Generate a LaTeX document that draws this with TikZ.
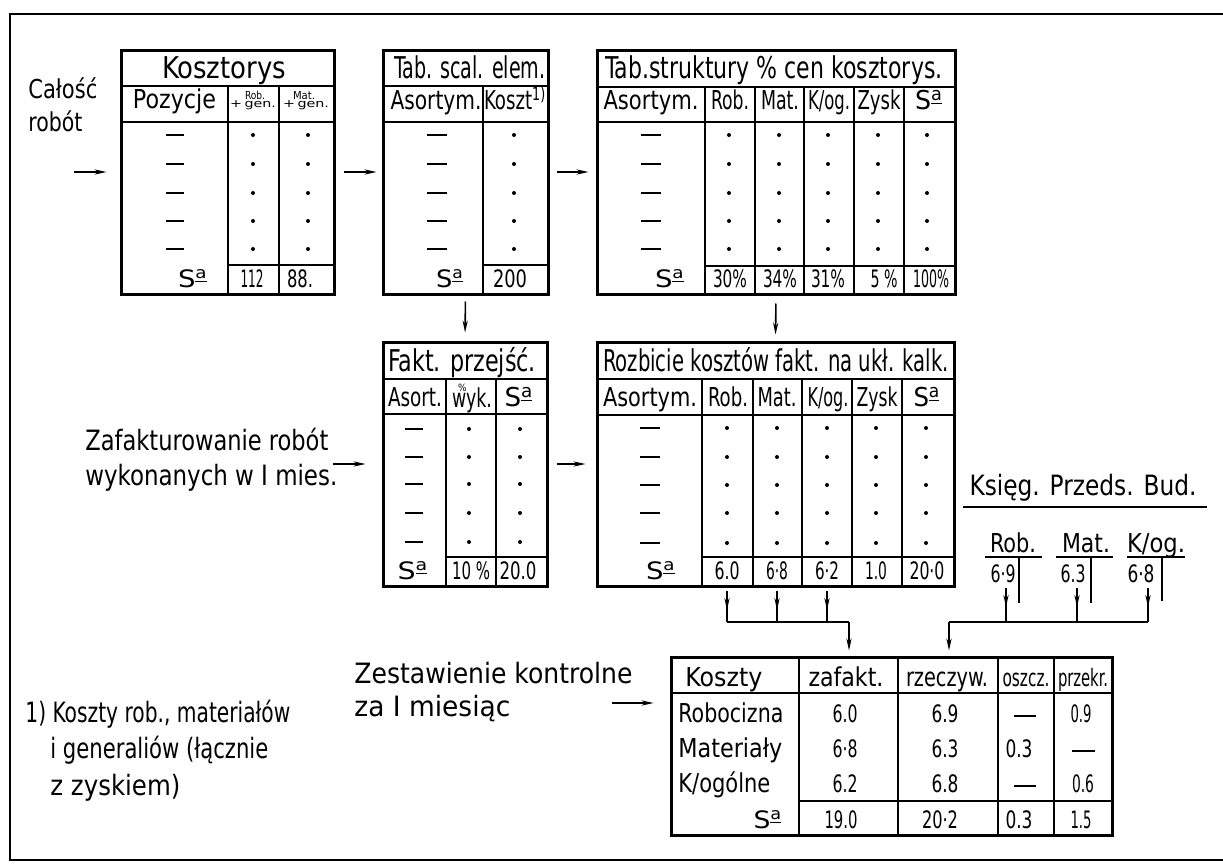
\documentclass[tikz,border=0pt]{standalone}
\usepackage{fontspec}
\setmainfont{DejaVu Sans Condensed}
\usepackage{graphicx}
\usetikzlibrary{arrows.meta,fit}
\newlength\fxw
\newcommand\fitx[2]{\settowidth\fxw{#2}\pgfmathsetmacro\fxs{0.5*#1/\fxw}\scalebox{\fxs}[1]{#2}}
\newcommand\Sa{S\textsuperscript{\underline{a}}}
\begin{document}
\begin{tikzpicture}[x=0.5pt,y=-0.5pt,
  tx/.style={inner sep=0pt, anchor=base},
  txl/.style={inner sep=0pt, anchor=base west},
  ttl/.style={tx, font=\fontsize{15}{17}\selectfont},
  hdr/.style={tx, font=\fontsize{13}{15}\selectfont},
  num/.style={tx, font=\fontsize{12}{14}\selectfont},
  lab/.style={txl, font=\fontsize{14}{16}\selectfont},
  labs/.style={txl, font=\fontsize{13}{15}\selectfont},
  tny/.style={tx, font=\fontsize{5.5}{6}\selectfont},
  tbl/.style={draw, line width=1.5pt, inner sep=0pt},
  inl/.style={line width=0.8pt},
  dsh/.style={line width=1pt},
  arr/.style={line width=0.8pt, -{Stealth[length=6pt,width=2.6pt]}},
  con/.style={line width=0.8pt},
  frm/.style={line width=1.4pt}]
\useasboundingbox (0,0) rectangle (1223,868);
\fill[white] (0,0) rectangle (1223,868);
% frame
\draw[frm] (1223,14) -- (10,14) -- (10,860) -- (1223,860);

% ---------- Table 1: Kosztorys
\node[tbl, fit={(121,50) (334,294)}] (T1) {};
\draw[inl] (121,86) -- (334,86) (121,122) -- (334,122)
  (228,86) -- (228,294) (279,86) -- (279,294) (228,265) -- (334,265);
\node[ttl] (t1a) at (224,78) {\fitx{124}{Kosztorys}};
\node[hdr] (t1b) at (174.5,108) {\fitx{83}{Pozycje}};
\node[tny] (t1c) at (255,99) {\fitx{20}{Rob.}};
\node[tny] (t1d) at (253,107) {\fitx{46}{+\,gen.}};
\node[tny] (t1e) at (304,99) {\fitx{22}{Mat.}};
\node[tny] (t1f) at (306,107) {\fitx{46}{+\,gen.}};
\foreach \y in {135,164,193,221,249} {
  \draw[dsh] (166,\y) -- (184,\y);
  \fill (253,\y) circle (1pt); \fill (308,\y) circle (1pt);}
\node[num] (t1g) at (193,287) {\fitx{30}{\Sa}};
\node[num] (t1h) at (252,287) {\fitx{23}{112}};
\node[num] (t1i) at (300,287) {\fitx{26}{88.}};

% ---------- Table 2: Tab. scal. elem.
\node[tbl, fit={(383,50) (548,294)}] (T2) {};
\draw[inl] (383,86) -- (548,86) (383,122) -- (548,122)
  (483,86) -- (483,294) (483,265) -- (548,265);
\node[ttl] (t2a) at (470,78) {\fitx{151}{Tab. scal. elem.}};
\node[hdr] (t2b) at (436,109) {\fitx{91}{Asortym.}};
\node[hdr] (t2c) at (515,109) {\fitx{62}{Koszt\textsuperscript{1)}}};
\foreach \y in {135,164,193,221,249} {
  \draw[dsh] (427,\y) -- (447,\y);
  \fill (514,\y) circle (1pt);}
\node[num] (t2d) at (450,287) {\fitx{28}{\Sa}};
\node[num] (t2e) at (510,287) {\fitx{34}{200}};

% ---------- Table 3: Tab. struktury
\node[tbl, fit={(597,50) (955,294)}] (T3) {};
\draw[inl] (597,87) -- (955,87) (597,122) -- (955,122)
  (705,87) -- (705,294) (755,87) -- (755,294) (804,87) -- (804,294)
  (854,87) -- (854,294) (904,87) -- (904,294) (705,266) -- (955,266);
\node[ttl] (t3a) at (774,78) {\fitx{337}{Tab.struktury \% cen kosztorys.}};
\node[hdr] (t3b) at (651,109) {\fitx{95}{Asortym.}};
\node[hdr] (t3c) at (730,109) {\fitx{38}{Rob.}};
\node[hdr] (t3d) at (780,109) {\fitx{38}{Mat.}};
\node[hdr] (t3e) at (829,109) {\fitx{42}{K/og.}};
\node[hdr] (t3f) at (879,109) {\fitx{43}{Zysk}};
\node[hdr] (t3g) at (929,109) {\fitx{28}{\Sa}};
\foreach \y in {135,164,193,221,249} {
  \draw[dsh] (641,\y) -- (661,\y);
  \foreach \x in {729,779,828,878,927} {\fill (\x,\y) circle (1pt);}}
\node[num] (t3h) at (670,287) {\fitx{30}{\Sa}};
\node[num] (t3i) at (730,287) {\fitx{34}{30\%}};
\node[num] (t3j) at (780,287) {\fitx{34}{34\%}};
\node[num] (t3k) at (828,287) {\fitx{34}{31\%}};
\node[num] (t3l) at (884,287) {\fitx{27}{5 \%}};
\node[num] (t3m) at (931,287) {\fitx{36}{100\%}};

% ---------- Table F: Fakt. przejsc.
\node[tbl, fit={(383,342) (547,586)}] (F) {};
\draw[inl] (383,379) -- (547,379) (383,414) -- (547,414)
  (446,379) -- (446,586) (496,379) -- (496,586) (446,557) -- (547,557);
\node[ttl] (fa) at (462,371) {\fitx{148}{Fakt. przejść.}};
\node[hdr] (fb) at (415,406) {\fitx{54}{Asort.}};
\node[hdr] (fd) at (472,407) {\rlap{\raisebox{8pt}{\fontsize{5}{6}\selectfont\hspace{3pt}\%}}\fitx{40}{wyk.}};
\node[hdr] (fe) at (519,406) {\fitx{29}{\Sa}};
\foreach \y in {429,457,484,513,542} {
  \draw[dsh] (405,\y) -- (423,\y);
  \fill (469,\y) circle (1pt); \fill (520,\y) circle (1pt);}
\node[num] (ff) at (413,579) {\fitx{31}{\Sa}};
\node[num] (fg) at (471,579) {\fitx{38}{10 \%}};
\node[num] (fh) at (518,579) {\fitx{37}{20.0}};

% ---------- Table R: Rozbicie
\node[tbl, fit={(597,342) (954,586)}] (R) {};
\draw[inl] (597,379) -- (954,379) (597,415) -- (954,415)
  (702,379) -- (702,586) (753,379) -- (753,586) (802,379) -- (802,586)
  (852,379) -- (852,586) (902,379) -- (902,586) (702,557) -- (954,557);
\node[ttl] (ra) at (776,371) {\fitx{346}{Rozbicie kosztów fakt. na ukł. kalk.}};
\node[hdr] (rb) at (650,406) {\fitx{94}{Asortym.}};
\node[hdr] (rc) at (728,406) {\fitx{40}{Rob.}};
\node[hdr] (rd) at (777,406) {\fitx{39}{Mat.}};
\node[hdr] (re) at (828,406) {\fitx{41}{K/og.}};
\node[hdr] (rf) at (877,406) {\fitx{41}{Zysk}};
\node[hdr] (rg) at (927,406) {\fitx{27}{\Sa}};
\foreach \y in {428,457,485,513,543} {
  \draw[dsh] (640,\y) -- (660,\y);
  \foreach \x in {727,777,827,876,926} {\fill (\x,\y) circle (1pt);}}
\node[num] (rh) at (661,579) {\fitx{30}{\Sa}};
\node[num] (ri) at (727,579) {\fitx{25}{6.0}};
\node[num] (rj) at (777,579) {\fitx{22}{6·8}};
\node[num] (rk) at (827,579) {\fitx{24}{6·2}};
\node[num] (rl) at (876,579) {\fitx{22}{1.0}};
\node[num] (rm) at (927,579) {\fitx{35}{20·0}};

% ---------- Table B: Zestawienie
\node[tbl, fit={(671,657) (1112,835)}] (B) {};
\draw[inl] (671,693) -- (1112,693) (799,801) -- (1112,801)
  (799,657) -- (799,835) (898,657) -- (898,835)
  (998,657) -- (998,835) (1054,657) -- (1054,835);
\node[txl, font=\fontsize{13}{15}\selectfont] (ba) at (685,686) {\fitx{77}{Koszty}};
\node[hdr] (bb) at (846,686) {\fitx{75}{zafakt.}};
\node[hdr] (bc) at (947,686) {\fitx{82}{rzeczyw.}};
\node[num] (bd) at (1026,686) {\fitx{47}{oszcz.}};
\node[num] (be) at (1083,686) {\fitx{50}{przekr.}};
\node[txl, font=\fontsize{13}{15}\selectfont] (bf) at (678,722) {\fitx{105}{Robocizna}};
\node[txl, font=\fontsize{13}{15}\selectfont] (bg) at (678,757) {\fitx{104}{Materiały}};
\node[txl, font=\fontsize{13}{15}\selectfont] (bh) at (678,792) {\fitx{92}{K/ogólne}};
\node[num] (bi) at (845,722) {\fitx{25}{6.0}};
\node[num] (bj) at (945,722) {\fitx{27}{6.9}};
\draw[dsh] (1014,716) -- (1036,716);
\node[num] (bk) at (1081,722) {\fitx{21}{0.9}};
\node[num] (bl) at (845,757) {\fitx{25}{6·8}};
\node[num] (bm) at (945,757) {\fitx{27}{6.3}};
\node[num] (bn) at (1019,757) {\fitx{27}{0.3}};
\draw[dsh] (1072,751) -- (1095,751);
\node[num] (bo) at (845,792) {\fitx{25}{6.2}};
\node[num] (bp) at (945,792) {\fitx{27}{6.8}};
\draw[dsh] (1014,786) -- (1036,786);
\node[num] (bq) at (1083,792) {\fitx{22}{0.6}};
\node[num] (br) at (768,828) {\fitx{29}{\Sa}};
\node[num] (bs) at (841,828) {\fitx{33}{19.0}};
\node[num] (bt) at (940,828) {\fitx{36}{20·2}};
\node[num] (bu) at (1019,828) {\fitx{27}{0.3}};
\node[num] (bv) at (1081,828) {\fitx{21}{1.5}};

% ---------- Ksieg. Przeds. Bud.
\node[tx, font=\fontsize{14}{16}\selectfont] (ka) at (1083,495) {\fitx{227}{Księg. Przeds. Bud.}};
\draw[con] (963,507) -- (1207,507);
\node[hdr] (kb) at (1013,552) {\fitx{46}{Rob.}};
\node[hdr] (kc) at (1086,552) {\fitx{48}{Mat.}};
\node[hdr] (kd) at (1156,552) {\fitx{58}{K/og.}};
\draw[con] (985,557) -- (1042,557) (1056,557) -- (1113,557) (1127,557) -- (1185,557);
\node[num] (ke) at (1003,582) {\fitx{25}{6·9}};
\node[num] (kf) at (1073,582) {\fitx{25}{6.3}};
\node[num] (kg) at (1141,582) {\fitx{27}{6·8}};
\draw[con] (1019,557) -- (1019,603) (1091,557) -- (1091,603) (1162,557) -- (1162,601);

% ---------- left labels
\node[labs] (la) at (28,98) {\fitx{69}{Całość}};
\node[labs] (lb) at (28,131) {\fitx{54}{robót}};
\node[lab] (lc) at (85,450) {\fitx{243}{Zafakturowanie robót}};
\node[lab] (ld) at (85,485) {\fitx{252}{wykonanych w I mies.}};
\node[lab] (le) at (354,683) {\fitx{278}{Zestawienie kontrolne}};
\node[lab] (lf) at (354,716) {\fitx{156}{za I miesiąc}};
\node[lab] (lg) at (25,722) {\fitx{265}{1) Koszty rob., materiałów}};
\node[lab] (lh) at (50,758) {\fitx{218}{i generaliów (łącznie}};
\node[lab] (li) at (50,795) {\fitx{130}{z zyskiem)}};

% ---------- connectors
\coordinate (a1) at (74,172);
\draw[arr, shorten >=6.5pt] (a1) -- (T1.west);
\draw[arr, shorten <=4pt, shorten >=2.5pt] (T1.east) -- (T2.west);
\draw[arr, shorten <=3.5pt, shorten >=3.5pt] (T2.east) -- (T3.west);
\draw[arr, shorten <=3pt, shorten >=4pt] (T2.south) -- (F.north);
\draw[arr, shorten <=4pt, shorten >=3pt] (T3.south) -- (R.north);
\coordinate (a2) at (333,464);
\draw[arr, shorten >=8pt] (a2) -- (F.west);
\draw[arr, shorten <=4pt, shorten >=5pt] (F.east) -- (R.west);
\coordinate (a3) at (612,703);
\draw[arr, shorten >=8pt] (a3) -- (a3 -| B.west);

% left group: Rozbicie -> zafakt.
\coordinate (jl) at (849,622);
\foreach \x in {727,777,827} {
  \draw[con] (\x,591) -- (\x,622);
  \draw[arr] (\x,591) -- (\x,610);}
\draw[con] (727,622) -- (jl);
\draw[arr, shorten >=2.5pt] (jl) -- (jl |- B.north);
% right group: Ksieg -> rzeczyw.
\coordinate (jr) at (949,622);
\foreach \x in {1006,1077,1148} {
  \draw[con] (\x,588) -- (\x,622);
  \draw[arr] (\x,588) -- (\x,607);}
\draw[con] (jr) -- (1148,622);
\draw[arr, shorten >=2.5pt] (jr) -- (jr |- B.north);
\end{tikzpicture}
\end{document}
